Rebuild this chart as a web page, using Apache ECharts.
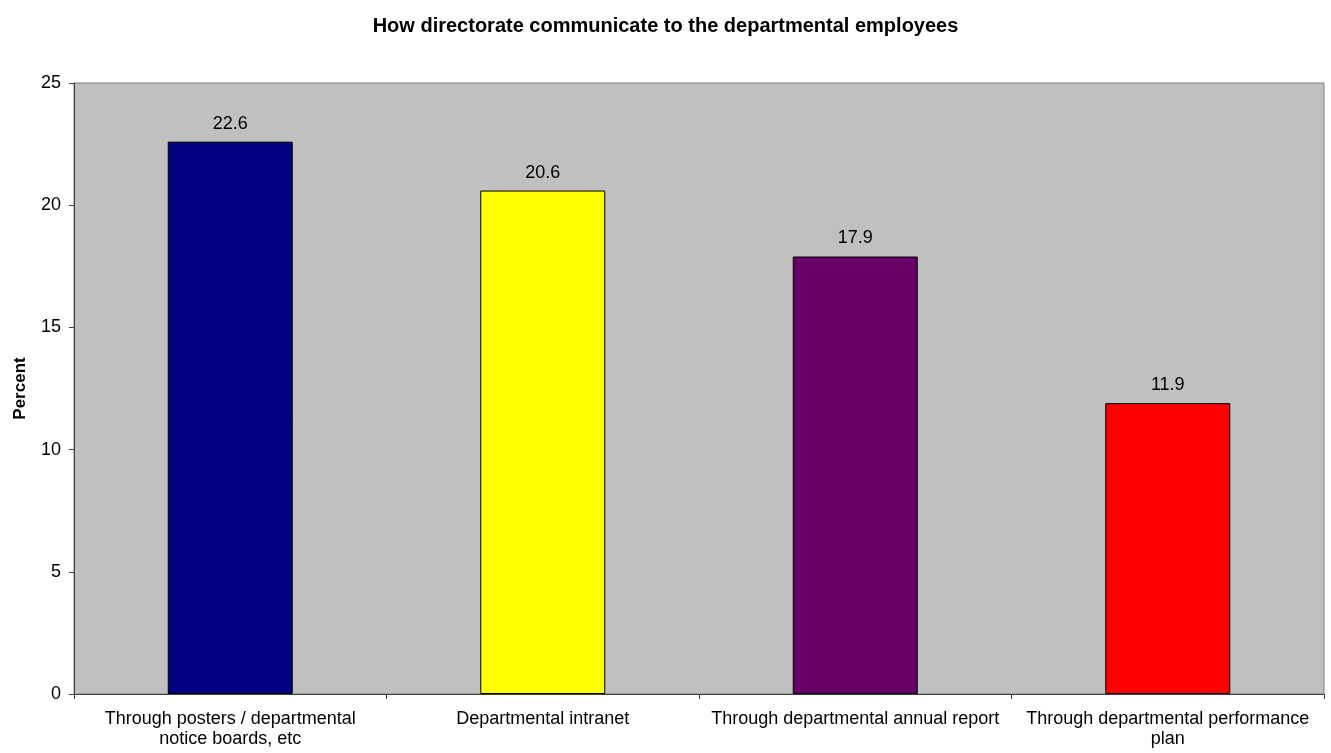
<!DOCTYPE html>
<html>
<head>
<meta charset="utf-8">
<script src="https://cdn.jsdelivr.net/npm/echarts@6/dist/echarts.min.js"></script>
<style>
  html, body { margin: 0; padding: 0; background: #ffffff; }
  #chart { width: 1331px; height: 753px; }
</style>
</head>
<body>
<div id="chart"></div>
<script>
// Communication channels and share of respondents (percent)
const categories = [
  'Through posters / departmental\nnotice boards, etc',
  'Departmental intranet',
  'Through departmental annual report',
  'Through departmental performance\nplan'
];
const percentValues = [22.6, 20.6, 17.9, 11.9];
const barColors = ['#000080', '#FFFF00', '#660066', '#FF0000'];
const yTicks = [0, 5, 10, 15, 20, 25];

const font = 'Arial, "Liberation Sans", sans-serif';
const chart = echarts.init(document.getElementById('chart'));

chart.setOption({
  animation: false,
  backgroundColor: '#ffffff',
  title: {
    text: 'How directorate communicate to the departmental employees',
    left: 'center',
    top: 11,
    textStyle: { fontFamily: font, fontSize: 20, fontWeight: 'bold', color: '#000' }
  },
  grid: {
    left: 74, right: 7, top: 83, bottom: 59,
    outerBoundsMode: 'none',
    containLabel: false,
    show: true,
    backgroundColor: '#C0C0C0',
    borderColor: '#808080',
    borderWidth: 1
  },
  xAxis: {
    type: 'category',
    data: categories,
    axisLine: { show: true, lineStyle: { color: '#404040', width: 1 } },
    axisTick: { show: true, alignWithLabel: false, length: 5, lineStyle: { color: '#404040' } },
    axisLabel: {
      interval: 0,
      margin: 15,
      fontFamily: font,
      fontSize: 18,
      lineHeight: 20,
      color: '#000'
    }
  },
  yAxis: {
    type: 'value',
    min: yTicks[0],
    max: yTicks[yTicks.length - 1],
    interval: 5,
    name: 'Percent',
    nameLocation: 'middle',
    nameGap: 45,
    nameRotate: 90,
    nameTextStyle: { fontFamily: font, fontSize: 17, fontWeight: 'bold', color: '#000' },
    axisLine: { show: true, lineStyle: { color: '#404040', width: 1 } },
    axisTick: { show: true, length: 5, lineStyle: { color: '#404040' } },
    splitLine: { show: false },
    axisLabel: { fontFamily: font, fontSize: 18, color: '#000', margin: 13 }
  },
  series: [{
    type: 'bar',
    barWidth: '40%',
    data: percentValues.map((v, i) => ({
      value: v,
      itemStyle: { color: barColors[i] }
    })),
    itemStyle: { borderColor: '#000', borderWidth: 1 },
    label: {
      show: true,
      position: 'top',
      distance: 9,
      fontFamily: font,
      fontSize: 18,
      color: '#000',
      formatter: p => p.value.toFixed(1)
    }
  }]
});
</script>
</body>
</html>
